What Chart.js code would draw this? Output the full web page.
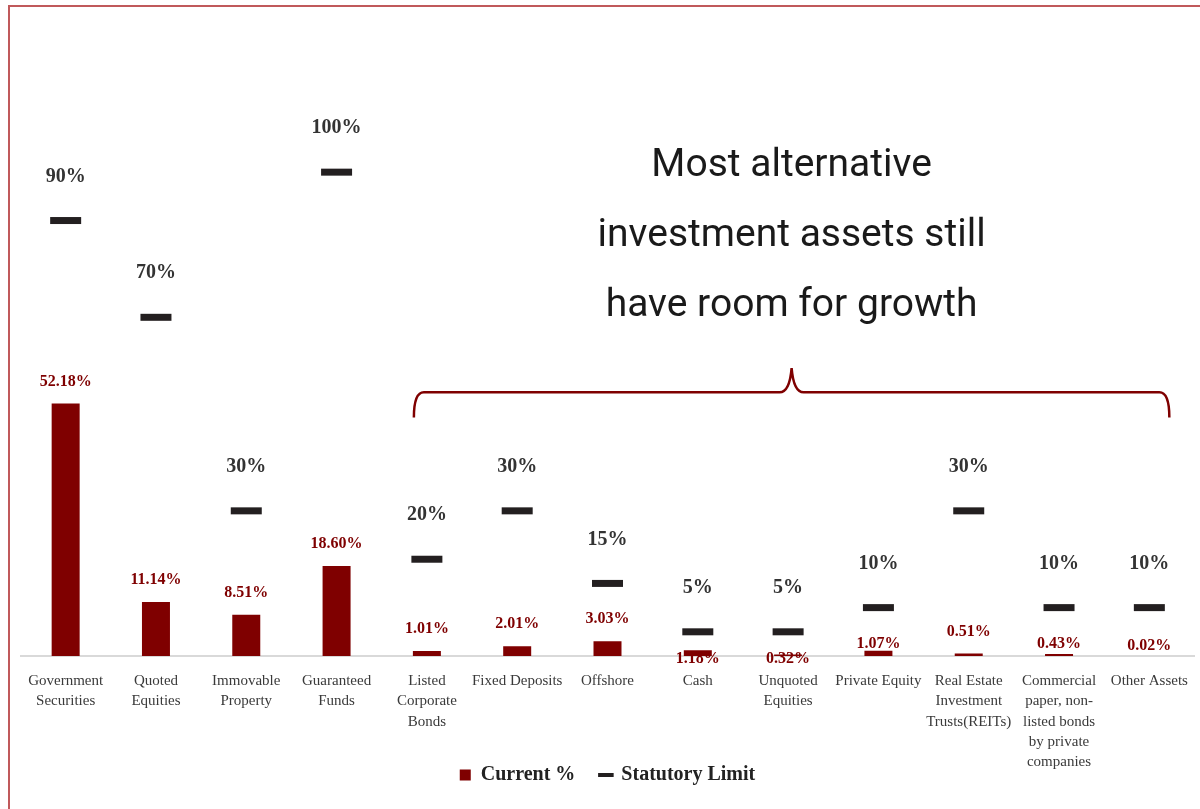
<!DOCTYPE html>
<html lang="en">
<head>
  <meta charset="UTF-8" />
  <script src="https://cdn.jsdelivr.net/npm/chart.js"></script>
  <style>
    html, body { margin: 0; padding: 0; background: #fff; overflow: hidden; }
    #wrap { position: relative; width: 1200px; height: 809px; overflow: hidden; }
    #assetChart { position: absolute; left: -2px; top: 0; }
    #frame {
      position: absolute; left: 8px; top: 5px; width: 1300px; height: 900px;
      border-left: 2px solid #c0595b; border-top: 2px solid #c0595b;
      pointer-events: none;
    }
  </style>
</head>
<body>
  <div id="wrap">
    <canvas id="assetChart" width="1219" height="809"></canvas>
    <div id="frame"></div>
  </div>

  <script>
    const categories = [
      ['Government', 'Securities'],
      ['Quoted', 'Equities'],
      ['Immovable', 'Property'],
      ['Guaranteed', 'Funds'],
      ['Listed', 'Corporate', 'Bonds'],
      'Fixed Deposits',
      'Offshore',
      'Cash',
      ['Unquoted', 'Equities'],
      'Private Equity',
      ['Real Estate', 'Investment', 'Trusts(REITs)'],
      ['Commercial', 'paper, non-', 'listed bonds', 'by private', 'companies'],
      'Other Assets',
    ];
    const currentPct = [52.18, 11.14, 8.51, 18.60, 1.01, 2.01, 3.03, 1.18, 0.32, 1.07, 0.51, 0.43, 0.02];
    const statutoryLimit = [90, 70, 30, 100, 20, 30, 15, 5, 5, 10, 30, 10, 10];
    // gap (px) between a bar top and the centre of its value label
    const labelShift = [22, 22, 22, 22, 22, 22, 22, -9, -4, 7, 22, 10, 10];

    const calloutLines = ['Most alternative', 'investment assets still', 'have room for growth'];
    const calloutLevels = [101.3, 86.8, 72.3];
    const braceLevel = 54.5;
    const bracePeak = 59.5;
    const braceEnd = 49.3;

    const RED = '#7f0000';
    const INK = '#231f20';
    const SERIF = '"Liberation Serif", "Times New Roman", serif';

    const valueLabels = {
      id: 'valueLabels',
      afterDatasetsDraw(chart) {
        const { ctx } = chart;
        const bars = chart.getDatasetMeta(0).data;
        const marks = chart.getDatasetMeta(1).data;
        ctx.save();
        ctx.textAlign = 'center';
        ctx.textBaseline = 'middle';

        ctx.font = 'bold 16px ' + SERIF;
        ctx.fillStyle = RED;
        bars.forEach((bar, i) => {
          ctx.fillText(currentPct[i].toFixed(2) + '%', bar.x, bar.y - labelShift[i]);
        });

        ctx.font = 'bold 20px ' + SERIF;
        ctx.fillStyle = '#333';
        marks.forEach((pt, i) => {
          ctx.fillText(statutoryLimit[i] + '%', pt.x, pt.y - 44);
        });
        ctx.restore();
      },
    };

    // brace over the alternative asset classes plus the note above it
    const callout = {
      id: 'callout',
      afterDraw(chart) {
        const { ctx } = chart;
        const xs = chart.scales.x;
        const ys = chart.scales.y;
        const left = xs.getPixelForValue(4) - 13;
        const right = xs.getPixelForValue(12) + 20;
        const mid = (left + right) / 2;
        const yb = ys.getPixelForValue(braceLevel);
        const yp = ys.getPixelForValue(bracePeak);
        const ye = ys.getPixelForValue(braceEnd);

        ctx.save();
        ctx.strokeStyle = RED;
        ctx.lineWidth = 2.5;
        ctx.beginPath();
        ctx.moveTo(left, ye);
        ctx.quadraticCurveTo(left, yb, left + 10, yb);
        ctx.lineTo(mid - 12, yb);
        ctx.quadraticCurveTo(mid - 2, yb, mid, yp);
        ctx.quadraticCurveTo(mid + 2, yb, mid + 12, yb);
        ctx.lineTo(right - 10, yb);
        ctx.quadraticCurveTo(right, yb, right, ye);
        ctx.stroke();

        ctx.fillStyle = '#1a1a1a';
        ctx.font = '39px Roboto, "Open Sans", sans-serif';
        ctx.textAlign = 'center';
        ctx.textBaseline = 'middle';
        calloutLines.forEach((line, i) => {
          ctx.fillText(line, mid, ys.getPixelForValue(calloutLevels[i]));
        });
        ctx.restore();
      },
    };

    // the category labels run down beside the legend, so let them draw past the axis box
    const tallTicks = {
      id: 'tallTicks',
      afterLayout(chart) {
        chart.scales.x.bottom = chart.height;
      },
    };

    const ctx = document.getElementById('assetChart').getContext('2d');
    new Chart(ctx, {
      type: 'bar',
      data: {
        labels: categories,
        datasets: [
          {
            type: 'bar',
            label: 'Current %',
            data: currentPct,
            backgroundColor: RED,
            borderWidth: 0,
            barPercentage: 0.31,
            categoryPercentage: 1,
            order: 2,
          },
          {
            type: 'line',
            label: 'Statutory Limit',
            data: statutoryLimit,
            showLine: false,
            pointStyle: 'line',
            pointRadius: 15.5,
            pointHoverRadius: 15.5,
            pointBorderWidth: 7,
            pointHoverBorderWidth: 7,
            borderColor: INK,
            backgroundColor: INK,
            pointBorderColor: INK,
            order: 1,
          },
        ],
      },
      options: {
        responsive: false,
        animation: false,
        events: [],
        layout: { padding: { top: 27, left: 22, right: 22, bottom: 14 } },
        scales: {
          x: {
            grid: { display: false },
            border: { color: '#d9d9d9', width: 2 },
            ticks: {
              color: '#3a3a3a',
              font: { family: SERIF, size: 15, lineHeight: 1.35 },
              padding: 7,
              maxRotation: 0,
              autoSkip: false,
            },
            afterFit(scale) { scale.height = 99; },
          },
          y: {
            display: false,
            min: 0,
            max: 130,
          },
        },
        plugins: {
          tooltip: { enabled: false },
          legend: {
            position: 'bottom',
            labels: {
              usePointStyle: true,
              boxWidth: 11,
              boxHeight: 11,
              padding: 10,
              color: '#222',
              font: { family: SERIF, size: 20, weight: 'bold' },
              sort: (a, b) => a.datasetIndex - b.datasetIndex,
              generateLabels(chart) {
                const items = Chart.defaults.plugins.legend.labels.generateLabels(chart);
                items.forEach(item => {
                  if (item.datasetIndex === 0) {
                    item.pointStyle = 'rect';
                    item.fillStyle = RED;
                    item.lineWidth = 0;
                    item.text += '   ';
                  } else {
                    item.pointStyle = 'line';
                    item.lineWidth = 4;
                    item.strokeStyle = INK;
                  }
                });
                return items;
              },
            },
          },
        },
      },
      plugins: [valueLabels, callout, tallTicks],
    });
  </script>
</body>
</html>
